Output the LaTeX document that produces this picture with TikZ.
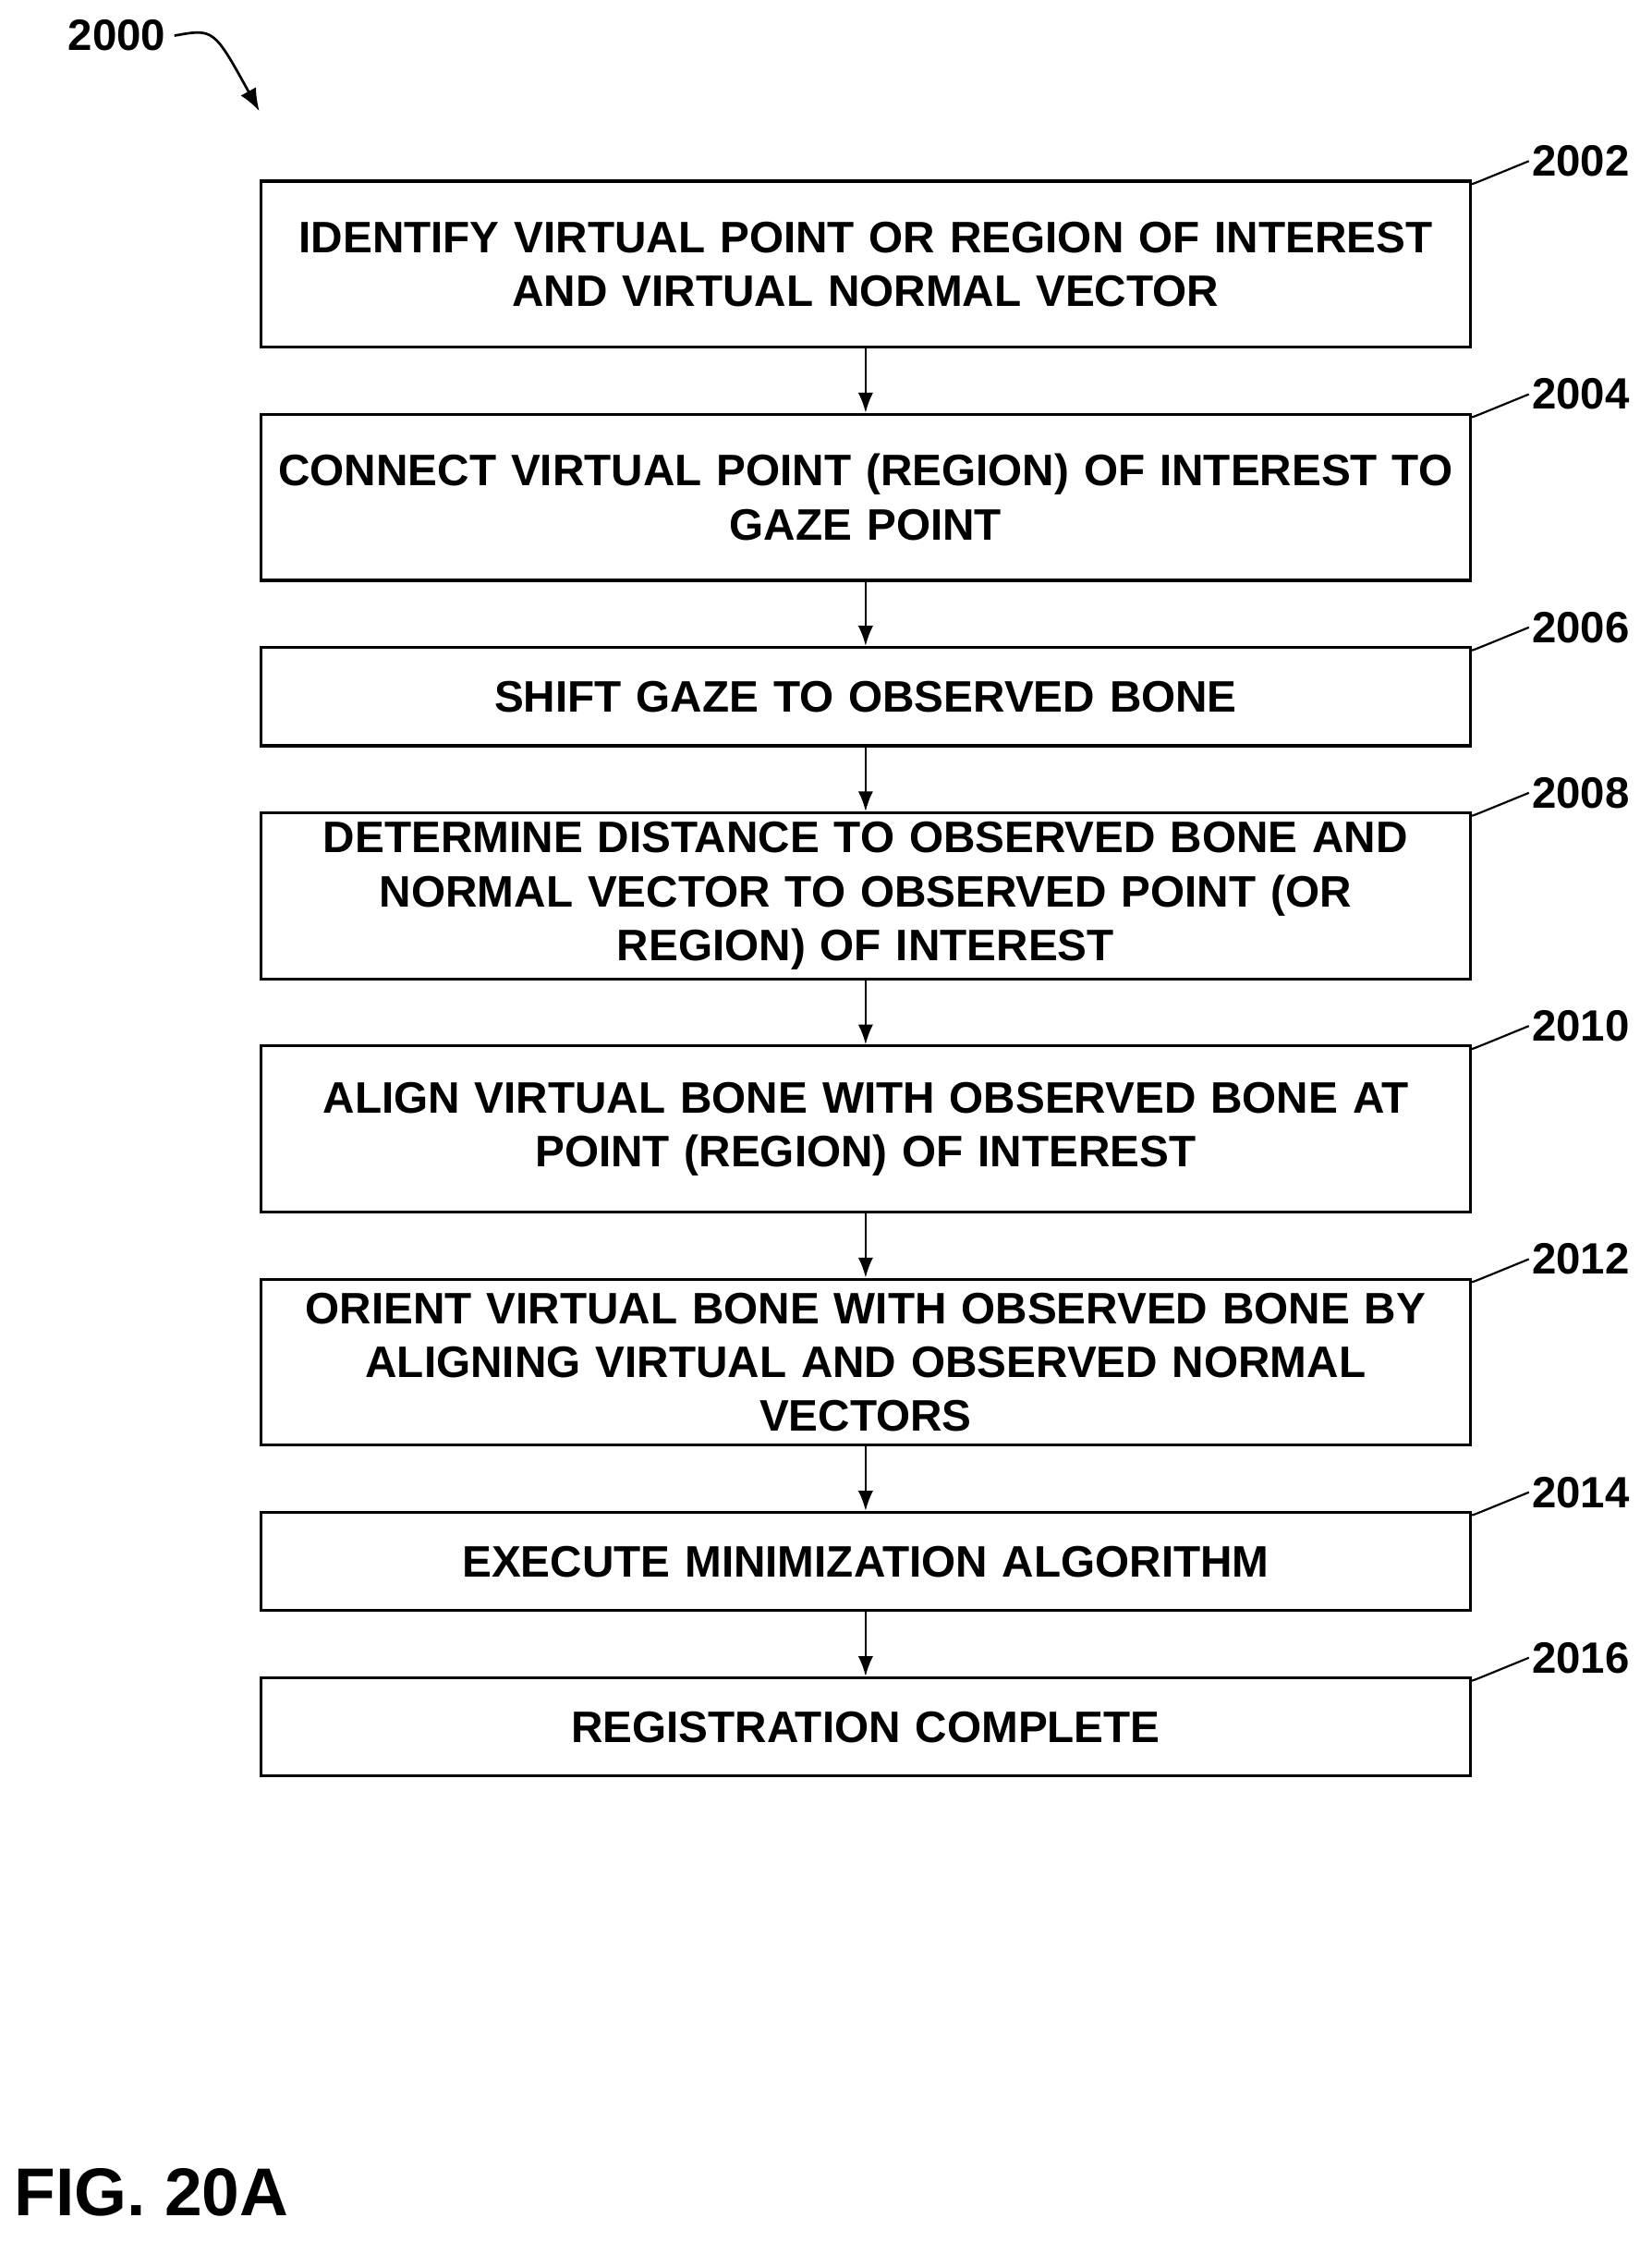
\documentclass[tikz,border=0pt]{standalone}
\usepackage{fontspec}
\setmainfont{Liberation Sans}
\usetikzlibrary{positioning,arrows.meta}

\begin{document}
\begin{tikzpicture}[x=0.02cm,y=-0.02cm,node distance=0.9cm,
    box/.style={draw,line width=1.2pt,minimum width=16.98cm,text width=16.6cm,align=center,
        font=\fontsize{17.6}{21.5}\selectfont\bfseries,inner sep=0pt},
    tall/.style={box,minimum height=2.33cm},
    short/.style={box,minimum height=1.38cm},
    ref/.style={font=\fontsize{17.5}{19}\selectfont\bfseries,anchor=west,inner sep=1pt}]
    \useasboundingbox (0,0) rectangle (1159,1573);
    \node[tall,anchor=north west] (s_2002) at (182,126) {IDENTIFY VIRTUAL POINT OR REGION OF INTEREST\\AND VIRTUAL NORMAL VECTOR};
    \node[tall] (s_2004) [below=of s_2002] {CONNECT VIRTUAL POINT (REGION) OF INTEREST TO\\GAZE POINT};
    \node[short] (s_2006) [below=of s_2004] {SHIFT GAZE TO OBSERVED BONE};
    \node[tall] (s_2008) [below=of s_2006] {DETERMINE DISTANCE TO OBSERVED BONE AND\\NORMAL VECTOR TO OBSERVED POINT (OR\\REGION) OF INTEREST};
    \node[tall] (s_2010) [below=of s_2008] {ALIGN VIRTUAL BONE WITH OBSERVED BONE AT\\POINT (REGION) OF INTEREST};
    \node[tall] (s_2012) [below=of s_2010] {ORIENT VIRTUAL BONE WITH OBSERVED BONE BY\\ALIGNING VIRTUAL AND OBSERVED NORMAL\\VECTORS};
    \node[short] (s_2014) [below=of s_2012] {EXECUTE MINIMIZATION ALGORITHM};
    \node[short] (s_2016) [below=of s_2014] {REGISTRATION COMPLETE};
    % step arrows
    \foreach \a/\b in {2002/2004,2004/2006,2006/2008,2008/2010,2010/2012,2012/2014,2014/2016}
        \draw[-{Latex[length=8pt,width=6pt]},line width=0.8pt] (s_\a) -- (s_\b);
    % reference numerals
    \foreach \n in {2002,2004,2006,2008,2010,2012,2014,2016} {
        \node[ref] (r_\n) at ([xshift=0.8cm,yshift=0.26cm]s_\n.north east) {\n};
        \draw[line width=0.8pt] ([yshift=-0.06cm]s_\n.north east) .. controls +(0.2,0.3) .. (r_\n.west);
    }
    \node[font=\fontsize{17.5}{19}\selectfont\bfseries] (fig_num) at (82,25) {2000};
    \coordinate (fig_tip) at (182,78);
    \draw[-{Latex[length=9pt,width=7pt]},line width=1pt] (fig_num.east) .. controls (150,20) .. (fig_tip);
    \node[font=\fontsize{27}{32}\selectfont\bfseries,anchor=west] (fig_lbl) at (4,1538) {FIG. 20A};
\end{tikzpicture}
\end{document}
